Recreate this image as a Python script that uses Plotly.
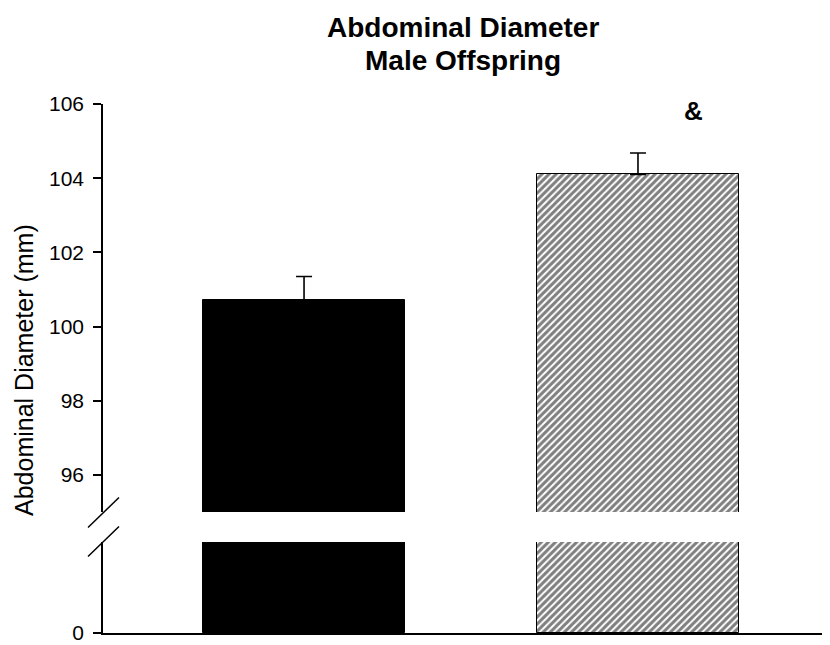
import plotly.graph_objects as go

categories = ["Control", "Treated"]
values = [100.72, 104.10]
errors = [0.63, 0.58]
upper_ticks = [96, 98, 100, 102, 104, 106]
annotation_text = "&"
title_lines = ["Abdominal Diameter", "Male Offspring"]

OFF = 8  # default body margin of the html page
W, H = 830 - OFF, 645 - OFF
L, R, T, B = 103 - OFF, 0, 104 - OFF, 12
pw, ph = W - L - R, H - T - B

def px_x(x):  # page pixel -> paper coordinate
    return (x - OFF - L) / pw

def px_y(y):
    return (H - B - (y - OFF)) / ph

lower_dom = [0, px_y(542)]
upper_dom = [px_y(512), 1]

fig = go.Figure()
patterns = [dict(shape=""), dict(shape="/", size=5, solidity=0.6, fgcolor="black", bgcolor="white")]
colors = ["black", "white"]

for i, (c, v, e) in enumerate(zip(categories, values, errors)):
    for yax in ["y", "y2"]:
        fig.add_trace(go.Bar(
            x=[i], y=[v], xaxis="x", yaxis=yax, width=0.605,
            marker=dict(color=colors[i], pattern=patterns[i],
                        line=dict(color="black", width=1)),
            error_y=dict(type="data", symmetric=False, array=[e], arrayminus=[0],
                         color="black", thickness=1.6, width=8, visible=(yax == "y2")),
            showlegend=False, hoverinfo="skip"))

axis_common = dict(ticks="outside", ticklen=8, tickwidth=1.5, tickcolor="black",
                   showline=True, linecolor="black", linewidth=1.5, showgrid=False,
                   zeroline=False, anchor="x", ticklabelstandoff=5,
                   tickfont=dict(size=21))

fig.update_layout(
    width=W, height=H,
    margin=dict(l=L, r=R, t=T, b=B),
    paper_bgcolor="white", plot_bgcolor="white",
    font=dict(family="Liberation Sans, Arial, sans-serif", color="black", size=21),
    bargap=0,
    xaxis=dict(range=[-0.602, 1.575], showticklabels=False, ticks="", showgrid=False,
               zeroline=False, showline=True, linecolor="black", linewidth=1.5,
               anchor="y"),
    yaxis=dict(domain=lower_dom, range=[0, 10], tickvals=[0], ticktext=["0"], **axis_common),
    yaxis2=dict(domain=upper_dom, range=[95, 106], tickvals=upper_ticks, **axis_common),
)

# title lines
for txt, yc in zip(title_lines, [28, 60]):
    fig.add_annotation(x=px_x(463), y=px_y(yc), xref="paper", yref="paper",
                       text="<b>" + txt + "</b>", showarrow=False,
                       font=dict(size=28), xanchor="center", yanchor="middle")

# broken axis marks
for yc in [512.5, 541.5]:
    fig.add_shape(type="line", xref="paper", yref="paper",
                  x0=px_x(88), y0=px_y(yc + 15), x1=px_x(119), y1=px_y(yc - 15),
                  line=dict(color="black", width=1.5))

fig.add_annotation(x=1.165, y=105.8, xref="x", yref="y2", text="<b>" + annotation_text + "</b>",
                   showarrow=False, font=dict(size=26))

fig.add_annotation(x=px_x(24), y=px_y(370), xref="paper", yref="paper",
                   text="Abdominal Diameter (mm)", textangle=-90, showarrow=False,
                   font=dict(size=25), xanchor="center", yanchor="middle")

fig.write_html("out.html")
